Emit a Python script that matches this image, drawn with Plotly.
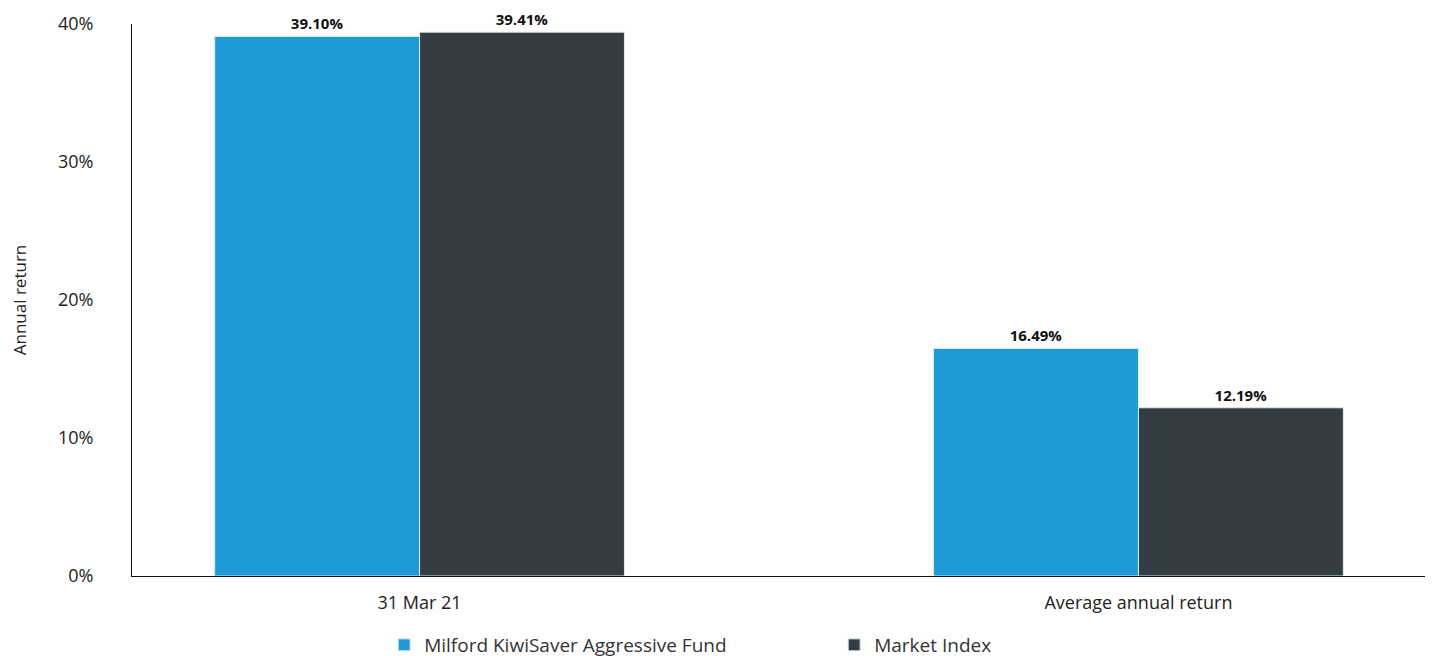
import plotly.graph_objects as go

categories = ["31 Mar 21", "Average annual return"]
fund_name = "Milford KiwiSaver Aggressive Fund"
index_name = "Market Index"
fund_values = [39.10, 16.49]
index_values = [39.41, 12.19]
y_tickvals = [0, 10, 20, 30, 40]
y_ticktext = ["0%", "10%", "20%", "30%", "40%"]

x_pos = list(range(len(categories)))
font_family = "Open Sans, Lato, sans-serif"

fig = go.Figure()
fig.add_trace(go.Bar(
    x=x_pos, y=fund_values, name=fund_name,
    marker=dict(color="#1E9AD6", line=dict(color="#DDEBF2", width=1)),
    text=[f"{v:.2f}%" for v in fund_values], textposition="outside",
    textfont=dict(family=font_family, size=15, color="#111111", weight="bold"),
    cliponaxis=False,
))
fig.add_trace(go.Bar(
    x=x_pos, y=index_values, name=index_name,
    marker=dict(color="#333D43", line=dict(color="#DDEBF2", width=1)),
    text=[f"{v:.2f}%" for v in index_values], textposition="outside",
    textfont=dict(family=font_family, size=15, color="#111111", weight="bold"),
    cliponaxis=False,
))

fig.update_layout(
    width=1433, height=656,
    margin=dict(l=124, r=15, t=16, b=88, autoexpand=False),
    paper_bgcolor="white", plot_bgcolor="white",
    barmode="group", bargap=0.43, bargroupgap=0,
    font=dict(family=font_family, size=17, color="#222222"),
    showlegend=True,
    legend=dict(orientation="h", x=0.2625, xref="container", xanchor="left",
                y=0.0, yref="container", yanchor="bottom",
                entrywidth=405, entrywidthmode="pixels",
                font=dict(size=19, color="#333333"), itemwidth=30),
    xaxis=dict(
        range=[-0.4, 1.4], tickvals=x_pos, ticktext=categories,
        showline=True, linecolor="#111111", linewidth=1,
        showgrid=False, zeroline=False, ticks="", automargin=False,
        ticklabelstandoff=10,
        tickfont=dict(size=18, color="#222222"),
    ),
    yaxis=dict(
        range=[0, 40], tickvals=y_tickvals, ticktext=y_ticktext,
        showline=True, linecolor="#111111", linewidth=1,
        showgrid=False, zeroline=False, ticks="", automargin=False,
        ticklabelstandoff=34,
        tickfont=dict(size=18, color="#222222"),
        title=dict(text="Annual return", font=dict(size=17, color="#222222"), standoff=30),
    ),
)

fig.write_html("out.html")
